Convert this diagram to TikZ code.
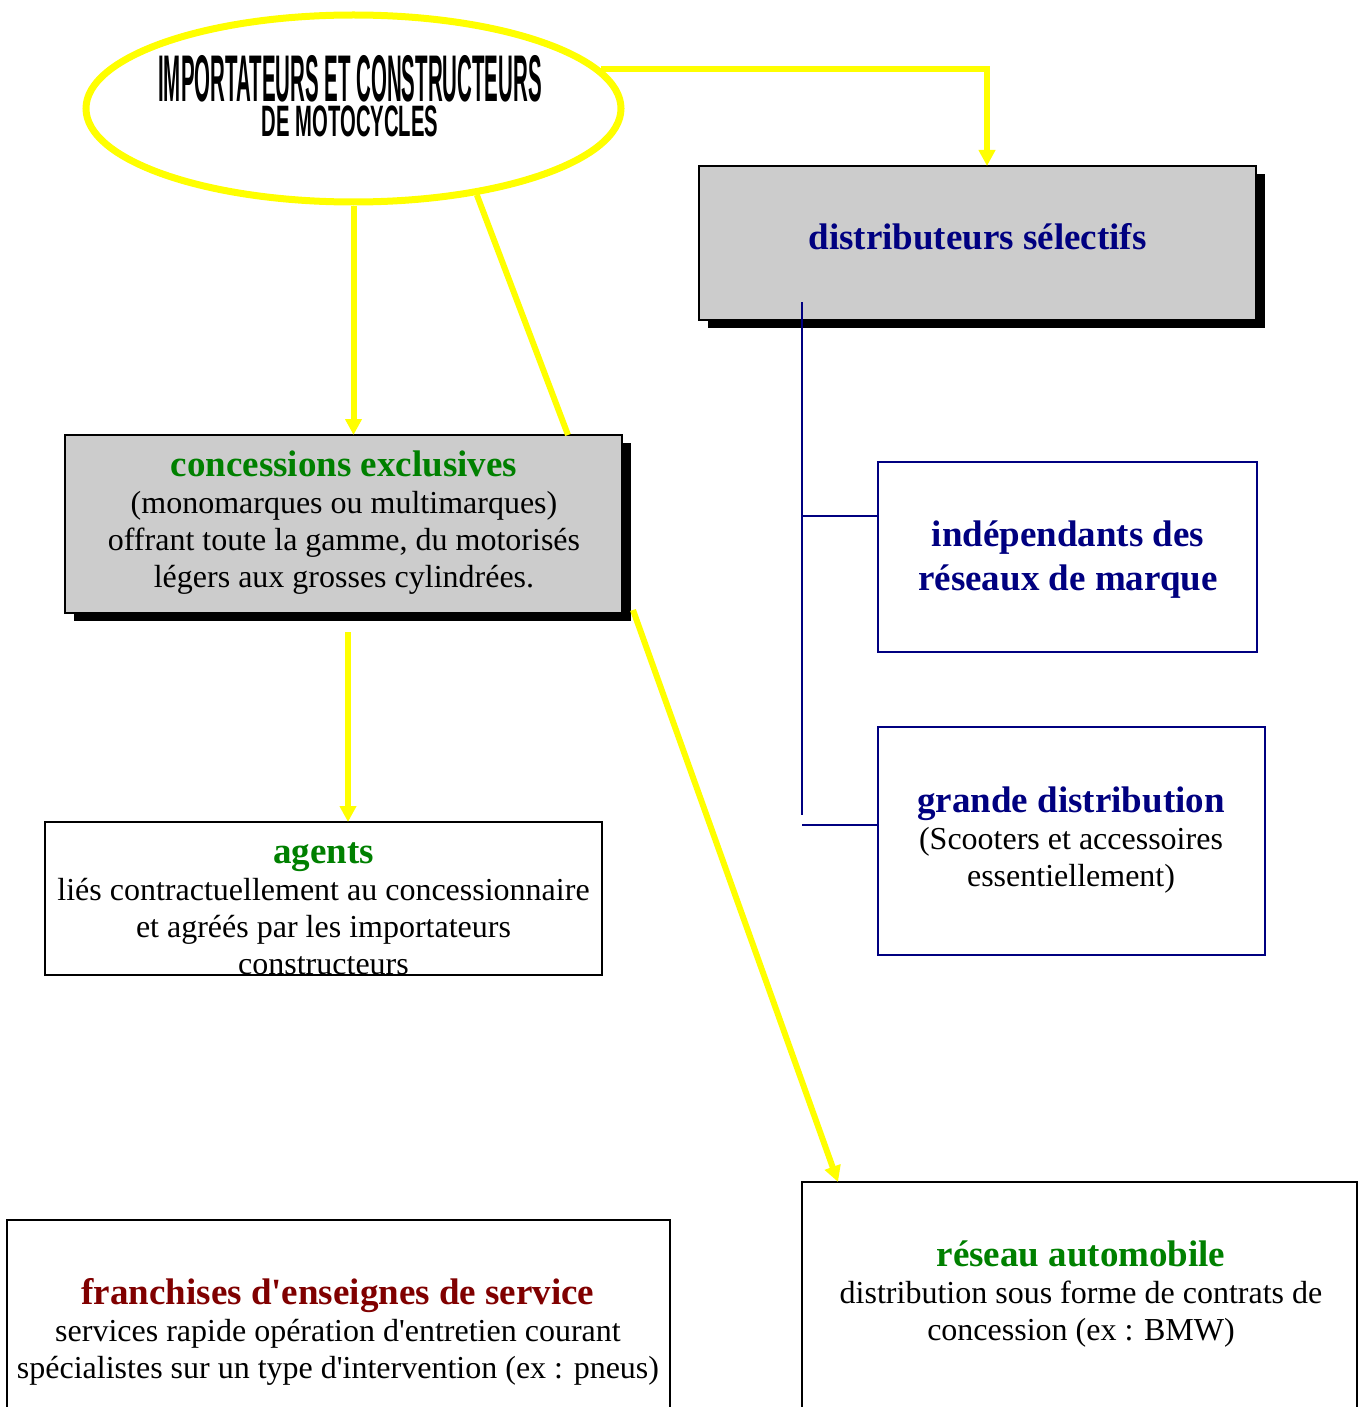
\documentclass[tikz,border=0pt]{standalone}
\usepackage{fontspec}
\setmainfont{Liberation Serif}
\newfontfamily\wasans{Liberation Sans}
\usepackage{graphicx}
\usetikzlibrary{arrows.meta,shapes.geometric,calc,shadows}
\definecolor{yel}{HTML}{FFFF00}
\definecolor{navy}{HTML}{000080}
\definecolor{dgreen}{HTML}{008000}
\definecolor{dred}{HTML}{800000}
\definecolor{boxgray}{HTML}{CCCCCC}
\newcommand\hdg[2]{{\color{#1}\fontsize{37}{40}\selectfont\bfseries #2}}
\newcommand\q{\textquotesingle}
\begin{document}
\begin{tikzpicture}[x=1pt,y=-1pt,
  graybox/.style={draw=black, line width=2pt, fill=boxgray, inner sep=0, outer sep=0,
    drop shadow={opacity=1,fill=black,shadow xshift=9pt,shadow yshift=-8pt}},
  plainbox/.style={draw=black, line width=1.8pt, fill=white, inner sep=0, outer sep=0},
  navybox/.style={draw=navy, line width=2pt, fill=white, inner sep=0, outer sep=0},
  txt/.style={align=center, inner sep=0, font=\fontsize{32}{37}\selectfont},
  yarrow/.style={draw=yel, line width=6pt, -{Triangle[length=16pt,width=16pt]}},
  yline/.style={draw=yel, line width=6pt},
  navyline/.style={draw=navy, line width=2pt}]
\useasboundingbox (0,0) rectangle (1359,1407);
\fill[white] (0,0) rectangle (1359,1407);

% ellipse
\node[draw=yel, line width=7pt, ellipse, minimum width=535pt, minimum height=187pt, inner sep=0] (ell) at (353.5,108.5) {};
\node[align=center, inner sep=0, font=\wasans\fontsize{44}{35}\selectfont\bfseries] (ellT) at (350,96)
  {\scalebox{0.31}[1]{\fontsize{66}{66}\selectfont IMPORTATEURS ET CONSTRUCTEURS}\\
   \scalebox{0.46}[1]{DE MOTOCYCLES}};

% boxes
\node[graybox, minimum width=557pt, minimum height=154pt] (dist) at (977.5,243) {};
\node[txt] (distT) at (977.5,237) {\hdg{navy}{distributeurs sélectifs}};

\node[graybox, minimum width=557pt, minimum height=178pt] (conc) at (343.5,524) {};
\node[txt] (concT) at (344,523) {\hdg{dgreen}{concessions exclusives}\\(monomarques ou multimarques)\\offrant toute la gamme, du motorisés\\légers aux grosses cylindrées.};

\node[plainbox, minimum width=557pt, minimum height=153pt] (agents) at (323.5,898.5) {};
\node[txt] (agentsT) at (323.5,909) {\hdg{dgreen}{agents}\\liés contractuellement au concessionnaire\\et agréés par les importateurs\\constructeurs};

\node[navybox, minimum width=379pt, minimum height=190pt] (indep) at (1067.5,557) {};
\node[txt] (indepT) at (1068,560) {\hdg{navy}{indépendants des}\\[7pt]\hdg{navy}{réseaux de marque}};

\node[navybox, minimum width=387pt, minimum height=228pt] (grande) at (1071.5,841) {};
\node[txt] (grandeT) at (1071,840) {\hdg{navy}{grande distribution}\\(Scooters et accessoires\\essentiellement)};

\node[plainbox, minimum width=555pt, minimum height=258pt] (reseau) at (1079.5,1311) {};
\node[txt] (reseauT) at (1081,1294) {\hdg{dgreen}{réseau automobile}\\distribution sous forme de contrats de\\concession (ex : BMW)};

\node[plainbox, minimum width=663pt, minimum height=220pt] (franch) at (338.5,1330) {};
\node[txt] (franchT) at (338,1332) {\hdg{dred}{franchises d\q enseignes de service}\\services rapide opération d\q entretien courant\\spécialistes sur un type d\q intervention (ex : pneus)};

% yellow connectors
\draw[yarrow] (ell.9) -| ($(dist.north)+(9.5,0)$);
\draw[yarrow] (ell.south) -- (ell.south |- conc.north);
\draw[yline] (ell.-35) -- ($(conc.north east)+(-54,0)$);
\coordinate (a1) at ($(conc.south)+(4.5,19)$);
\draw[yarrow] (a1) -- (a1 |- agents.north);
\coordinate (a2) at ($(conc.south east)+(11,-3)$);
\draw[yarrow] (a2) -- ($(reseau.north west)+(36,0)$);

% navy tree
\coordinate (tA) at (802,302);
\coordinate (tB) at (802,815);
\coordinate (h1) at (802,516);
\coordinate (h2) at (802,825);
\draw[navyline] (tA) -- (tB);
\draw[navyline] (h1) -- (h1 -| indep.west);
\draw[navyline] (h2) -- (h2 -| grande.west);
\end{tikzpicture}
\end{document}
